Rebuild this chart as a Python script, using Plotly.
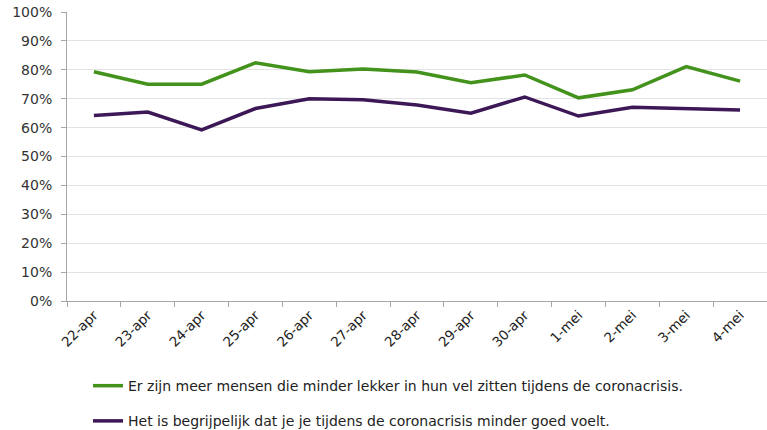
import plotly.graph_objects as go

categories = ["22-apr", "23-apr", "24-apr", "25-apr", "26-apr", "27-apr", "28-apr",
              "29-apr", "30-apr", "1-mei", "2-mei", "3-mei", "4-mei"]
green_vals = [0.793, 0.750, 0.750, 0.824, 0.793, 0.803, 0.792, 0.755, 0.782, 0.703, 0.731, 0.811, 0.761]
purple_vals = [0.642, 0.654, 0.592, 0.666, 0.700, 0.696, 0.678, 0.650, 0.706, 0.640, 0.670, 0.665, 0.661]
green_name = "Er zijn meer mensen die minder lekker in hun vel zitten tijdens de coronacrisis."
purple_name = "Het is begrijpelijk dat je je tijdens de coronacrisis minder goed voelt."
y_ticks = [i / 10 for i in range(11)]

fig = go.Figure()
fig.add_trace(go.Scatter(x=categories, y=green_vals, mode="lines", name=green_name,
                         line=dict(color="#43921c", width=3.5), legendgroup="a"))
fig.add_trace(go.Scatter(x=categories, y=purple_vals, mode="lines", name=purple_name,
                         line=dict(color="#3d1857", width=3.5), legendgroup="b"))

font = "DejaVu Sans, Verdana, sans-serif"
fig.update_layout(
    width=767, height=430,
    margin=dict(l=67, r=0, t=12, b=129, autoexpand=False),
    plot_bgcolor="white", paper_bgcolor="white",
    font=dict(family=font, size=13, color="#333333"),
    showlegend=True,
    legend=dict(x=0.03, y=-0.239, xanchor="left", yanchor="top",
                font=dict(size=14, color="#222222"), tracegroupgap=14,
                bgcolor="rgba(0,0,0,0)"),
    xaxis=dict(type="category", tickangle=-45, tickson="boundaries",
               ticks="outside", ticklen=5, tickcolor="#a6a6a6",
               showline=True, linecolor="#a6a6a6", linewidth=1,
               showgrid=False, tickfont=dict(size=13.5, color="#222222"),
               range=[-0.5, len(categories) - 0.5], automargin=False,
               ticklabeloverflow="allow"),
    yaxis=dict(range=[0, 1], tickvals=y_ticks, tickformat=".0%",
               ticks="outside", ticklen=5, tickcolor="#a6a6a6",
               showline=True, linecolor="#a6a6a6", linewidth=1,
               gridcolor="#e3e3e3", gridwidth=1, zeroline=False,
               ticklabelstandoff=6, ticklabeloverflow="allow",
               tickfont=dict(size=14, color="#333333"), automargin=False),
)
fig.write_html("out.html", config={"displayModeBar": False},
               post_script="document.body.style.margin='0';")
